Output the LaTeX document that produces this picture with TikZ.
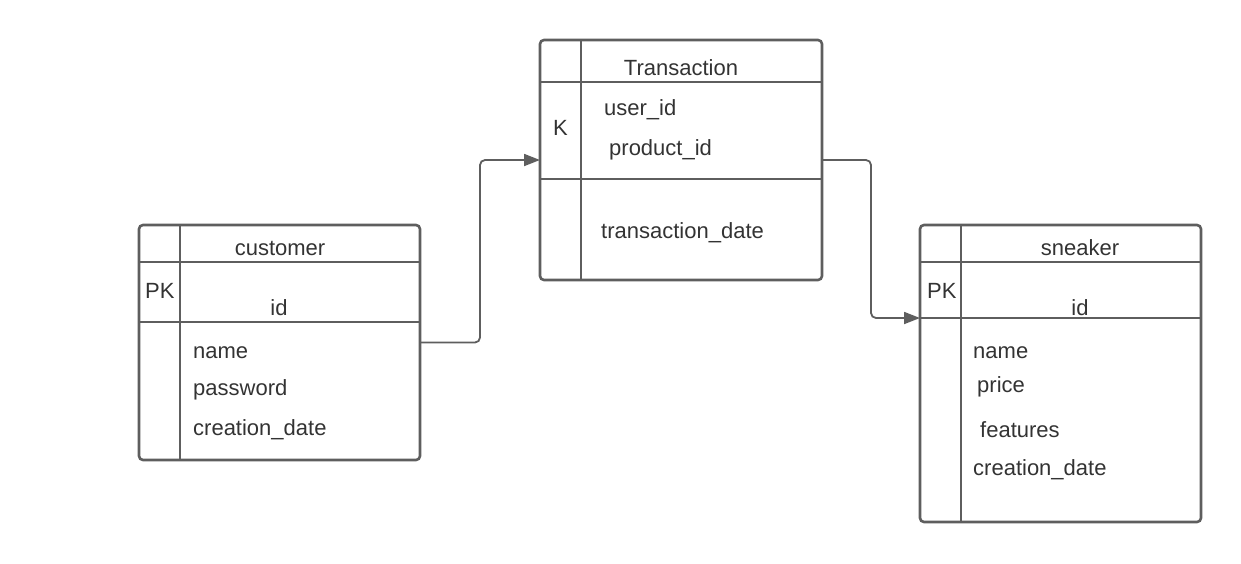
\documentclass[tikz,border=0pt]{standalone}
\usepackage{fontspec}
\setmainfont{Liberation Sans}
\usetikzlibrary{arrows.meta}
\definecolor{ln}{HTML}{5E5E5E}
\definecolor{tx}{HTML}{333333}
\begin{document}
\begin{tikzpicture}[x=1pt,y=-1pt,
 tbl/.style={draw=ln, line width=2.6pt, rounded corners=4pt, inner sep=0pt, outer sep=0pt, anchor=north west},
 sepline/.style={draw=ln, line width=2.6pt},
 lbl/.style={font=\fontsize{22}{25}\selectfont, text=tx, inner sep=0pt},
 ctr/.style={lbl, anchor=base},
 lft/.style={lbl, anchor=base west},
 conn/.style={draw=ln, line width=1.8pt, rounded corners=5pt, -{Triangle[length=16pt,width=12pt]}}]
\useasboundingbox (0,0) rectangle (1241,563);
% customer
\node[tbl, minimum width=281pt, minimum height=235pt] (cust) at (139,225) {};
\draw[sepline] (180,225) -- (180,460);
\draw[sepline] (139,262) -- (420,262);
\draw[sepline] (139,322) -- (420,322);
\node[ctr] (custt) at (280,255) {customer};
\node[lft] (custpk) at (145,298) {PK};
\node[ctr] (custid) at (279,315) {id};
\node[lft] (custa) at (193,358) {name};
\node[lft] (custb) at (193,395) {password};
\node[lft] (custc) at (193,435) {creation\_date};
% transaction
\node[tbl, minimum width=282pt, minimum height=240pt] (trans) at (540,40) {};
\draw[sepline] (581,40) -- (581,280);
\draw[sepline] (540,82) -- (822,82);
\draw[sepline] (540,179) -- (822,179);
\node[ctr] (transt) at (681,75) {Transaction};
\node[lft] (transk) at (553,135) {K};
\node[lft] (transa) at (604,115) {user\_id};
\node[lft] (transb) at (609,155) {product\_id};
\node[lft] (transc) at (601,238) {transaction\_date};
% sneaker
\node[tbl, minimum width=281pt, minimum height=297pt] (snk) at (920,225) {};
\draw[sepline] (961,225) -- (961,522);
\draw[sepline] (920,262) -- (1201,262);
\draw[sepline] (920,318) -- (1201,318);
\node[ctr] (snkt) at (1080,255) {sneaker};
\node[lft] (snkpk) at (927,298) {PK};
\node[ctr] (snkid) at (1080,315) {id};
\node[lft] (snka) at (973,358) {name};
\node[lft] (snkb) at (977,392) {price};
\node[lft] (snkc) at (980,437) {features};
\node[lft] (snkd) at (973,475) {creation\_date};
% connectors
\coordinate (snkin) at (920,318);
\draw[conn] (cust.east) -- (480,342.5) -- (480,160) -- (trans.west);
\draw[conn] (trans.east) -- (871,160) -- (871,318) -- (snkin);
\end{tikzpicture}
\end{document}
